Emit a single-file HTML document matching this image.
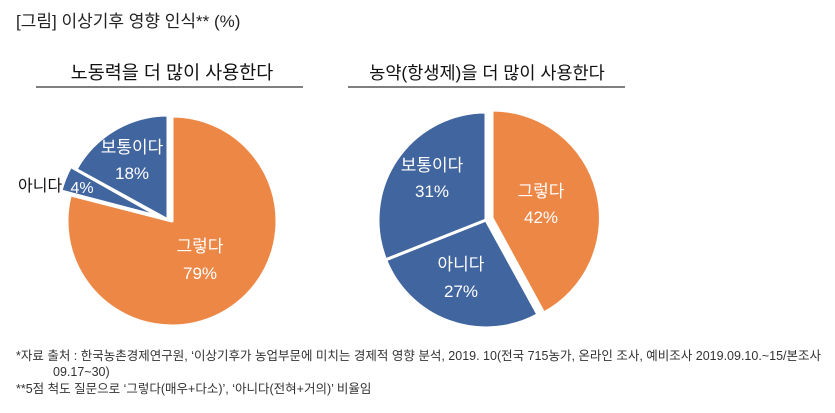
<!DOCTYPE html><html><head><meta charset="utf-8"><style>body{margin:0;background:#fff}svg{display:block}text{font-family:"Liberation Sans","Noto Sans CJK KR",sans-serif}</style></head><body>
<svg width="835" height="413" xmlns="http://www.w3.org/2000/svg">
<text x="16" y="27" font-size="17" fill="#222">[그림] 이상기후 영향 인식** (%)</text>
<text x="172" y="79" font-size="18.5" fill="#111" text-anchor="middle">노동력을 더 많이 사용한다</text>
<line x1="36" y1="87" x2="303" y2="87" stroke="#333" stroke-width="1.2"/>
<text x="487" y="79" font-size="17.5" fill="#111" text-anchor="middle">농약(항생제)을 더 많이 사용한다</text>
<line x1="348" y1="87" x2="625" y2="87" stroke="#333" stroke-width="1.2"/>
<g stroke="#fff" stroke-width="3" stroke-linejoin="round">
<path d="M172 221 L172 116 A105 105 0 1 1 70.3 194.9 Z" fill="#ED8746"/>
<path d="M160.6 217.1 L60.9 191 A105 105 0 0 1 70.6 166.5 Z" fill="#41659F"/>
<path d="M168 220 L76 169.4 A105 105 0 0 1 168 115 Z" fill="#41659F"/>
<path d="M492 218 L492 110 A108 108 0 0 1 543.8 313 Z" fill="#ED8746"/>
<path d="M486 220 L538 314.6 A108 108 0 0 1 385.6 259.8 Z" fill="#41659F"/>
<path d="M486 220 L385.6 259.8 A108 108 0 0 1 486 112 Z" fill="#41659F"/>
</g>
<g font-size="17" fill="#fff" text-anchor="middle">
<text x="200" y="252">그렇다</text><text x="200" y="279">79%</text>
<text x="132" y="153">보통이다</text><text x="132" y="179">18%</text>
<text x="82" y="193" font-size="16">4%</text>
<text x="432" y="171">보통이다</text><text x="432" y="197">31%</text>
<text x="541" y="197">그렇다</text><text x="541" y="223">42%</text>
<text x="461" y="270">아니다</text><text x="461" y="297">27%</text>
</g>
<text x="18" y="191" font-size="16" fill="#111">아니다</text>
<g font-size="12.5" fill="#333">
<text x="16" y="360">*자료 출처 : 한국농촌경제연구원, ‘이상기후가 농업부문에 미치는 경제적 영향 분석, 2019. 10(전국 715농가, 온라인 조사, 예비조사 2019.09.10.~15/본조사</text>
<text x="53" y="376">09.17~30)</text>
<text x="16" y="393">**5점 척도 질문으로 ‘그렇다(매우+다소)’, ‘아니다(전혀+거의)’ 비율임</text>
</g>
</svg></body></html>
